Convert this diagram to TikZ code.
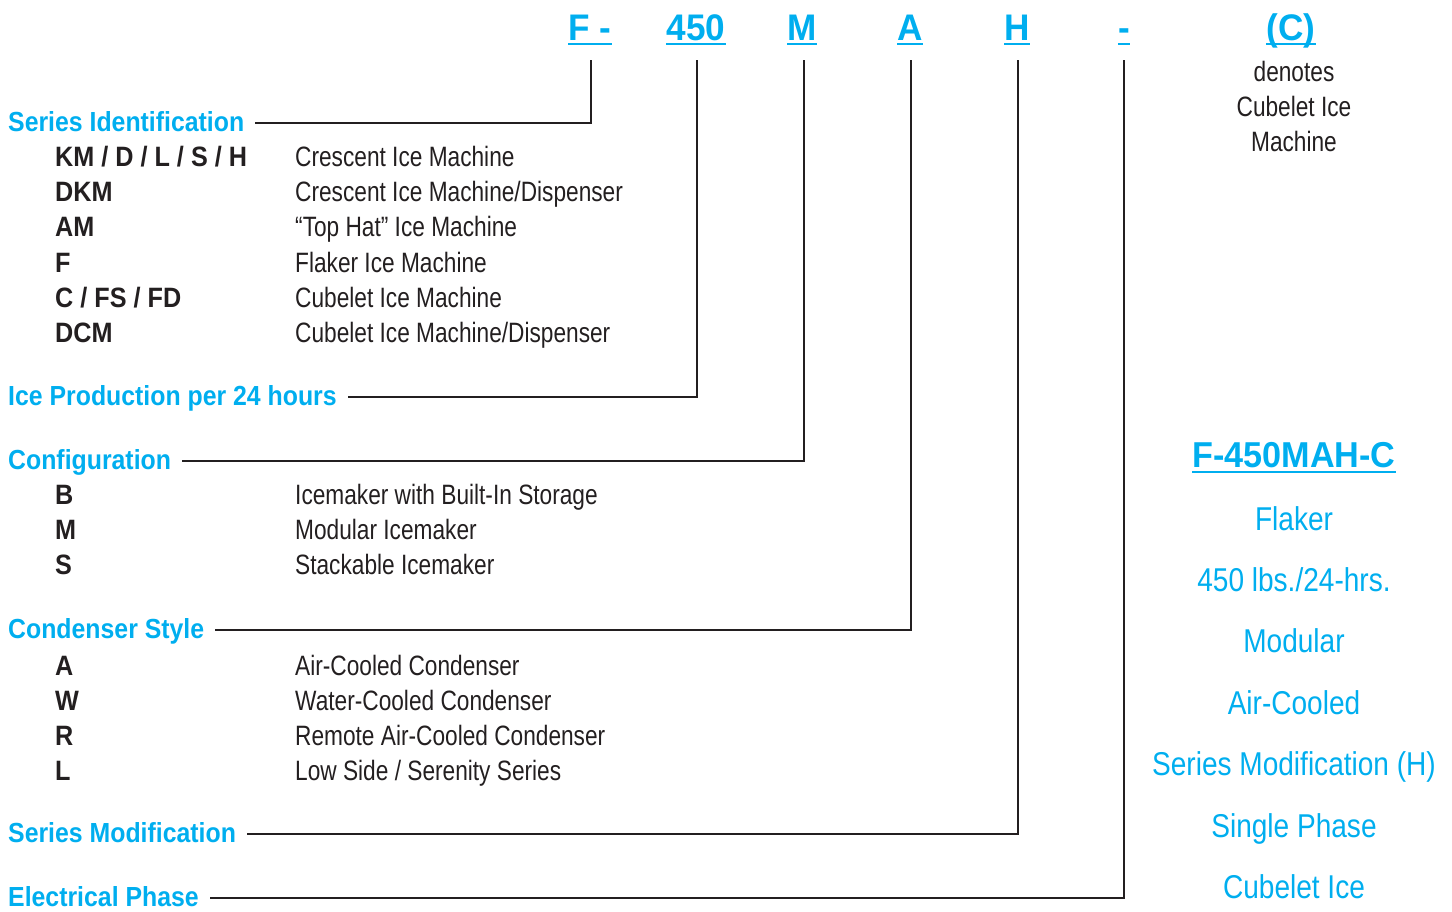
\documentclass[tikz,border=0pt]{standalone}
\usepackage{fontspec}
\setmainfont{Liberation Sans}[FakeStretch=0.81, BoldFeatures={FakeStretch=0.9}]
\newfontfamily\widebold{Liberation Sans Bold}[FakeStretch=0.95]
\newfontfamily\exfont{Liberation Sans}[FakeStretch=0.85]
\definecolor{fblue}{HTML}{00AEEF}
\definecolor{ink}{HTML}{231F20}
\tikzset{
  code/.style={anchor=base, inner sep=0pt, text=fblue, font=\fontsize{37}{40}\widebold},
  uline/.style={draw=fblue, line width=2.5pt},
  conn/.style={draw=ink, line width=2.6pt},
  lab/.style={anchor=base west, inner sep=0pt, text=fblue, font=\fontsize{27.6}{34}\selectfont\bfseries},
  key/.style={anchor=base west, inner sep=0pt, text=ink, font=\fontsize{28}{34}\selectfont\bfseries},
  desc/.style={anchor=base west, inner sep=0pt, text=ink, font=\fontsize{28}{34}\selectfont},
  note/.style={anchor=base, inner sep=0pt, text=ink, font=\fontsize{28}{34}\selectfont},
  ex/.style={anchor=base, inner sep=0pt, text=fblue, font=\fontsize{33}{36}\exfont},
  extitle/.style={anchor=base, inner sep=0pt, text=fblue, font=\fontsize{36}{40}\widebold}
}
\begin{document}
\begin{tikzpicture}[x=1pt,y=-1pt]
\useasboundingbox (0,0) rectangle (1452,911);
% top code
\node[code] (c1) at (590,40) {F -};
\node[code] (c2) at (696,40) {450};
\node[code] (c3) at (802,40) {M};
\node[code] (c4) at (910,40) {A};
\node[code] (c5) at (1017,40) {H};
\node[code] (c6) at (1124,40) {-};
\node[code] (c7) at (1291,40) {(C)};
\foreach \n in {c1,c2,c3,c4,c5,c6,c7}{
  \draw[uline] ([yshift=-4]\n.base west) -- ([yshift=-4]\n.base east);
}
\node[note] (n1) at (1294,81) {denotes};
\node[note] (n2) at (1294,116) {Cubelet Ice};
\node[note] (n3) at (1294,151) {Machine};
% connector tops
\coordinate (t1) at (591,60);
\coordinate (t2) at (697,60);
\coordinate (t3) at (804,60);
\coordinate (t4) at (911,60);
\coordinate (t5) at (1018,60);
\coordinate (t6) at (1124,60);
% labels
\node[lab] (l1) at (8,131) {Series Identification};
\node[lab] (l2) at (8,405) {Ice Production per 24 hours};
\node[lab] (l3) at (8,469) {Configuration};
\node[lab] (l4) at (8,638) {Condenser Style};
\node[lab] (l5) at (8,842) {Series Modification};
\node[lab] (l6) at (8,906) {Electrical Phase};
\draw[conn] (t1) |- ([shift={(11,-8)}]l1.base east);
\draw[conn] (t2) |- ([shift={(11,-8)}]l2.base east);
\draw[conn] (t3) |- ([shift={(11,-8)}]l3.base east);
\draw[conn] (t4) |- ([shift={(11,-8)}]l4.base east);
\draw[conn] (t5) |- ([shift={(11,-8)}]l5.base east);
\draw[conn] (t6) |- ([shift={(11,-8)}]l6.base east);
% series identification
\node[key] (k1) at (55,166) {KM / D / L / S / H};
\node[key] (k2) at (55,201) {DKM};
\node[key] (k3) at (55,236) {AM};
\node[key] (k4) at (55,272) {F};
\node[key] (k5) at (55,307) {C / FS / FD};
\node[key] (k6) at (55,342) {DCM};
\node[desc] (d1) at (295,166) {Crescent Ice Machine};
\node[desc] (d2) at (295,201) {Crescent Ice Machine/Dispenser};
\node[desc] (d3) at (295,236) {“Top Hat” Ice Machine};
\node[desc] (d4) at (295,272) {Flaker Ice Machine};
\node[desc] (d5) at (295,307) {Cubelet Ice Machine};
\node[desc] (d6) at (295,342) {Cubelet Ice Machine/Dispenser};
% configuration
\node[key] (k7) at (55,504) {B};
\node[key] (k8) at (55,539) {M};
\node[key] (k9) at (55,574) {S};
\node[desc] (d7) at (295,504) {Icemaker with Built-In Storage};
\node[desc] (d8) at (295,539) {Modular Icemaker};
\node[desc] (d9) at (295,574) {Stackable Icemaker};
% condenser
\node[key] (k10) at (55,675) {A};
\node[key] (k11) at (55,710) {W};
\node[key] (k12) at (55,745) {R};
\node[key] (k13) at (55,780) {L};
\node[desc] (d10) at (295,675) {Air-Cooled Condenser};
\node[desc] (d11) at (295,710) {Water-Cooled Condenser};
\node[desc] (d12) at (295,745) {Remote Air-Cooled Condenser};
\node[desc] (d13) at (295,780) {Low Side / Serenity Series};
% example
\node[extitle] (e0) at (1294,467) {F-450MAH-C};
\draw[uline] ([yshift=-5]e0.base west) -- ([yshift=-5]e0.base east);
\node[ex] (e1) at (1294,530) {Flaker};
\node[ex] (e2) at (1294,591) {450 lbs./24-hrs.};
\node[ex] (e3) at (1294,652) {Modular};
\node[ex] (e4) at (1294,714) {Air-Cooled};
\node[ex] (e5) at (1294,775) {Series Modification (H)};
\node[ex] (e6) at (1294,837) {Single Phase};
\node[ex] (e7) at (1294,898) {Cubelet Ice};
\end{tikzpicture}
\end{document}
